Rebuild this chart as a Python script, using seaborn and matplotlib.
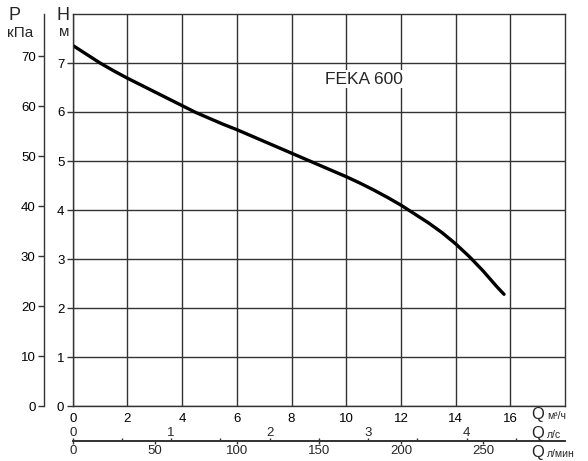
import matplotlib
matplotlib.use('Agg')
import matplotlib.pyplot as plt
import seaborn as sns

# pump curve FEKA 600
q_m3h = [0, 0.5, 1, 1.5, 2, 2.5, 3, 3.5, 4, 4.5, 5, 5.5, 6, 6.5, 7, 7.5,
         8, 8.5, 9, 9.5, 10, 10.5, 11, 11.5, 12, 12.5, 13, 13.5, 14, 14.5,
         15, 15.5, 15.77]
head_m = [7.36, 7.18, 7.00, 6.84, 6.69, 6.55, 6.41, 6.27, 6.13, 5.99, 5.87,
          5.75, 5.64, 5.52, 5.40, 5.28, 5.16, 5.04, 4.92, 4.80, 4.68, 4.55,
          4.41, 4.26, 4.10, 3.92, 3.74, 3.54, 3.31, 3.05, 2.76, 2.44, 2.28]

q_ticks = [0, 2, 4, 6, 8, 10, 12, 14, 16]
h_ticks = [0, 1, 2, 3, 4, 5, 6, 7]
p_ticks = [0, 10, 20, 30, 40, 50, 60, 70]
ls_ticks = [0, 1, 2, 3, 4]
ls_minor = [0.5, 1.5, 2.5, 3.5, 4.5]
lmin_ticks = [0, 50, 100, 150, 200, 250]

KPA_PER_M = 9.81
LS_PER_M3H = 1 / 3.6
LMIN_PER_M3H = 1000 / 60

sns.set_theme(style='white')
plt.rcParams['font.family'] = ['Liberation Sans', 'DejaVu Sans']

W, H = 588, 461
fig = plt.figure(figsize=(W / 100, H / 100), dpi=100)
ax = fig.add_axes([72.7 / W, 1 - 406 / H, 492.3 / W, 392 / H])

grid_c = '#333333'
ax.set_xlim(0, 18)
ax.set_ylim(0, 8)
ax.set_xticks(q_ticks)
ax.set_yticks(h_ticks)
ax.grid(True, color=grid_c, lw=1)
for s in ax.spines.values():
    s.set_color(grid_c)
    s.set_linewidth(1)
ax.tick_params(axis='x', length=0, pad=5, labelsize=9.5, colors='black')
ax.tick_params(axis='y', left=True, length=4, width=1, color=grid_c,
               pad=2, labelsize=9.5, labelcolor='black')

sns.lineplot(x=q_m3h, y=head_m, ax=ax, color='black', lw=2.4,
             sort=False, estimator=None, solid_joinstyle='round')
ax.set_xlabel('')
ax.set_ylabel('')

ax.text(10.65, 6.67, 'FEKA 600', fontsize=12.5, ha='center', va='center',
        bbox=dict(facecolor='white', edgecolor='none', pad=1))

# pressure axis (kPa) on the far left
ax_p = ax.twinx()
ax_p.set_ylim(0, 8 * KPA_PER_M)
ax_p.set_yticks(p_ticks)
ax_p.yaxis.set_ticks_position('left')
ax_p.yaxis.set_label_position('left')
ax_p.spines['left'].set_position(('axes', -0.0583))
for name, s in ax_p.spines.items():
    s.set_visible(name == 'left')
    s.set_color(grid_c)
    s.set_linewidth(1)
ax_p.tick_params(axis='y', length=4, width=1, color=grid_c, pad=2,
                 labelsize=9.5, labelcolor='black')
ax_p.grid(False)

# extra flow scales under the plot
loc = (406 - 441) / 392
ax_ls = ax.secondary_xaxis(loc, functions=(lambda x: x * LS_PER_M3H,
                                           lambda x: x / LS_PER_M3H))
ax_ls.set_xticks(ls_ticks)
ax_ls.set_xticks(ls_minor, minor=True)
ax_ls.tick_params(axis='x', which='both', top=True, bottom=False,
                  labeltop=True, labelbottom=False, direction='out',
                  length=2.2, width=1, color=grid_c, pad=-1.0, labelsize=9.5)
ax_ls.spines['bottom'].set_color(grid_c)
ax_ls.spines['top'].set_color(grid_c)

ax_lm = ax.secondary_xaxis(loc, functions=(lambda x: x * LMIN_PER_M3H,
                                           lambda x: x / LMIN_PER_M3H))
ax_lm.set_xticks(lmin_ticks)
ax_lm.tick_params(axis='x', top=False, bottom=True, labeltop=False,
                  labelbottom=True, direction='out', length=2.2, width=1,
                  color=grid_c, pad=0.6, labelsize=9.5)
ax_lm.spines['bottom'].set_color(grid_c)
ax_lm.spines['top'].set_color(grid_c)


def ftext(x, y, s, size, **kw):
    fig.text(x / W, 1 - y / H, s, fontsize=size, va='center', **kw)


ftext(8, 15, 'P', 13)
ftext(7, 33, 'кПа', 11)
ftext(57, 15, 'H', 13)
ftext(59, 32, 'м', 11)

ftext(531, 414, 'Q', 12)
ftext(547, 416, 'м³/ч', 7.5)
ftext(531, 433, 'Q', 12)
ftext(547, 435, 'л/с', 7.5)
ftext(531, 452, 'Q', 12)
ftext(547, 454, 'л/мин', 7.5)

fig.savefig('out.png', dpi=100)
